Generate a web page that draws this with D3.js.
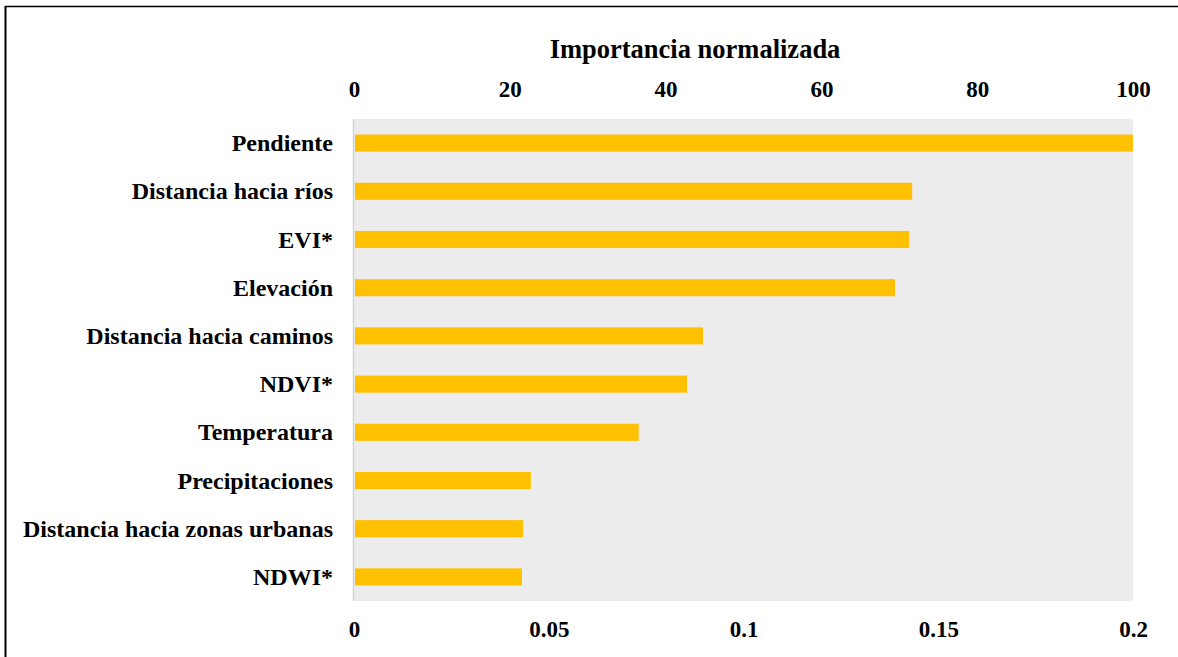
<!DOCTYPE html>
<html>
<head>
<meta charset="utf-8">
<script src="https://cdn.jsdelivr.net/npm/d3@7"></script>
<style>
  html, body { margin: 0; padding: 0; background: #fff; overflow: hidden; }
  svg { display: block; }
  svg text { font-family: "Liberation Serif", "Times New Roman", serif; font-weight: bold; fill: #000; }
</style>
</head>
<body>
<div id="chart"></div>
<script>
// variables (top to bottom) and their importance
const variables = [
    "Pendiente",
    "Distancia hacia ríos",
    "EVI*",
    "Elevación",
    "Distancia hacia caminos",
    "NDVI*",
    "Temperatura",
    "Precipitaciones",
    "Distancia hacia zonas urbanas",
    "NDWI*"
];
const importance = [0.2, 0.1433, 0.1425, 0.1389, 0.0896, 0.0855, 0.0731, 0.0454, 0.0434, 0.0431];
const bottomTicks = [0, 0.05, 0.1, 0.15, 0.2];
const topTicks = [0, 20, 40, 60, 80, 100];
const topTitle = "Importancia normalizada";

const width = 1178
const height = 657
const margin = {top: 119, right: 45, bottom: 56, left: 354}

const data = variables.map((name, i) => ({name: name, value: importance[i]}));

const svg = d3.select("#chart")
    .append("svg")
    .attr("width", width)
    .attr("height", height)

// frame (only left and top edges show)
svg.append("line")
    .attr("x1", 5.5).attr("x2", 5.5)
    .attr("y1", 6).attr("y2", height)
    .attr("stroke", "#000")
    .attr("stroke-width", 2)
svg.append("line")
    .attr("x1", 5).attr("x2", width)
    .attr("y1", 6.5).attr("y2", 6.5)
    .attr("stroke", "#000")
    .attr("stroke-width", 1.5)

const x = d3.scaleLinear()
    .domain([0, 0.2])
    .range([margin.left, width - margin.right])

const xNorm = d3.scaleLinear()
    .domain([0, 100])
    .range(x.range())

const y = d3.scaleBand()
    .domain(variables)
    .range([margin.top, height - margin.bottom])
    .paddingInner(0.645)
    .paddingOuter(0.3225)

// plot background
svg.append("rect")
    .attr("x", x(0))
    .attr("y", margin.top)
    .attr("width", x(0.2) - x(0))
    .attr("height", height - margin.bottom - margin.top)
    .attr("fill", "#ececec")

// left axis line
svg.append("line")
    .attr("x1", x(0) - 0.5).attr("x2", x(0) - 0.5)
    .attr("y1", margin.top).attr("y2", height - margin.bottom)
    .attr("stroke", "#d4d4d4")
    .attr("stroke-width", 1.5)

svg.append("g")
    .selectAll("rect")
    .data(data)
    .join("rect")
        .attr("x", x(0) + 1)
        .attr("y", d => y(d.name))
        .attr("width", d => x(d.value) - x(0) - 1)
        .attr("height", y.bandwidth())
        .attr("fill", "#ffc000")

// category labels
const yAxis = svg.append("g")
    .attr("transform", "translate(" + (x(0) - 1) + ",0)")
    .call(d3.axisLeft(y).tickSize(0).tickPadding(20))
yAxis.select(".domain").remove()
yAxis.selectAll("text")
    .style("font-size", "24px")
    .attr("dy", "0.34em")

// bottom axis (raw importance)
const xAxis = svg.append("g")
    .attr("transform", "translate(0," + (height - margin.bottom) + ")")
    .call(d3.axisBottom(x).tickValues(bottomTicks).tickSize(0).tickPadding(20).tickFormat(d3.format("~g")))
xAxis.select(".domain").remove()
xAxis.selectAll("text").style("font-size", "23px")

// top axis (normalized 0-100)
const topAxis = svg.append("g")
    .attr("transform", "translate(0," + margin.top + ")")
    .call(d3.axisTop(xNorm).tickValues(topTicks).tickSize(0).tickPadding(22))
topAxis.select(".domain").remove()
topAxis.selectAll("text").style("font-size", "23px")

svg.append("text")
    .attr("x", 695)
    .attr("y", 58)
    .attr("text-anchor", "middle")
    .style("font-size", "26.5px")
    .text(topTitle)
</script>
</body>
</html>
